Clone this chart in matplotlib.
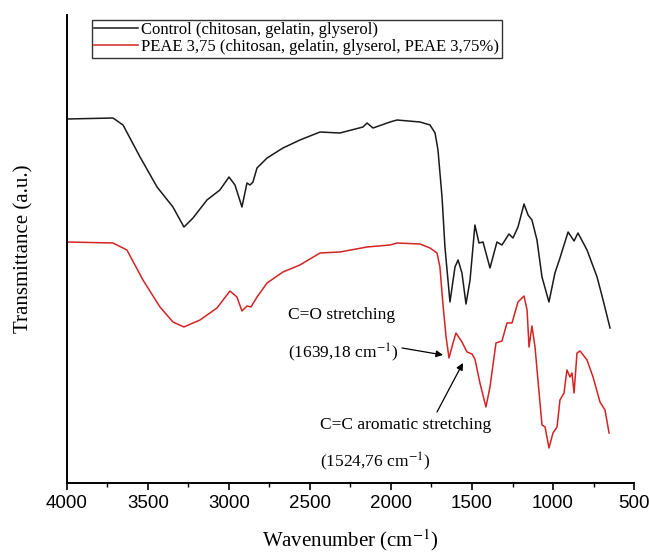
import matplotlib
matplotlib.use("Agg")
import matplotlib.pyplot as plt

# ---------------- data ----------------
wn_control = [4000, 3716, 3654, 3549, 3444, 3346, 3278, 3222, 3136, 3056, 3000, 2963,
              2920, 2889, 2870, 2852, 2827, 2765, 2667, 2562, 2438, 2315, 2173, 2148,
              2111, 2006, 1963, 1821, 1759, 1728, 1710, 1685, 1667, 1636, 1605, 1586,
              1562, 1537, 1512, 1482, 1457, 1432, 1389, 1346, 1315, 1272, 1247, 1216,
              1179, 1154, 1130, 1099, 1068, 1025, 988, 957, 907, 870, 846, 790, 728,
              691, 648]
t_control = [364, 365, 358, 326, 296, 276, 256, 265, 283, 293, 306, 298,
             276, 300, 298, 301, 315, 325, 335, 343, 351, 350, 356, 360,
             355, 361, 363, 361, 358, 350, 333, 286, 236, 181, 216, 223,
             210, 179, 203, 258, 240, 241, 215, 241, 238, 249, 245, 256,
             279, 268, 263, 243, 206, 181, 210, 225, 251, 242, 250, 233, 206,
             183, 155]

wn_peae = [4000, 3716, 3630, 3531, 3426, 3346, 3278, 3179, 3074, 2994, 2951, 2920,
           2889, 2864, 2827, 2765, 2667, 2562, 2438, 2315, 2148, 2006, 1963, 1821,
           1759, 1716, 1698, 1679, 1660, 1642, 1617, 1599, 1562, 1531, 1500, 1482,
           1451, 1414, 1389, 1352, 1315, 1284, 1253, 1216, 1179, 1160, 1148, 1130,
           1111, 1093, 1068, 1049, 1025, 1000, 975, 957, 932, 914, 895, 883, 870,
           852, 833, 790, 753, 710, 679, 654]
t_peae = [241, 240, 233, 203, 176, 161, 156, 163, 175, 192, 186, 172,
          177, 176, 186, 200, 211, 218, 230, 231, 236, 238, 240, 239,
          235, 230, 216, 178, 146, 125, 140, 150, 141, 131, 129, 124,
          100, 76, 96, 140, 142, 160, 160, 181, 187, 173, 136, 157,
          136, 103, 58, 56, 35, 50, 56, 83, 90, 113, 106, 110, 90,
          130, 132, 123, 106, 81, 73, 50]

labels = ["Control (chitosan, gelatin, glyserol)",
          "PEAE 3,75 (chitosan, gelatin, glyserol, PEAE 3,75%)"]
xticks = [4000, 3500, 3000, 2500, 2000, 1500, 1000, 500]

# ---------------- plot ----------------
plt.rcParams['mathtext.fontset'] = 'stix'
serif = 'Liberation Serif'

fig = plt.figure(figsize=(6.49, 5.54), dpi=100)
ax = fig.add_axes([0.1032, 0.1282, 0.8737, 0.8447])

ax.plot(wn_control, t_control, color='#1a1a1a', lw=1.1, label=labels[0])
ax.plot(wn_peae, t_peae, color='#d42323', lw=1.1, label=labels[1])

ax.set_xlim(4000, 500)
ax.set_ylim(0, 468)

ax.spines['top'].set_visible(False)
ax.spines['right'].set_visible(False)
ax.spines['left'].set_linewidth(1.4)
ax.spines['bottom'].set_linewidth(1.4)
ax.set_yticks([])
ax.set_xticks(xticks)
ax.set_xticks([3750, 3250, 2750, 2250, 1750, 1250, 750], minor=True)
ax.tick_params(axis='x', which='major', direction='out', length=5, width=1.2,
               labelsize=13.5, pad=4)
ax.tick_params(axis='x', which='minor', direction='out', length=3, width=1.0)
for lab in ax.get_xticklabels():
    lab.set_fontfamily('Liberation Sans')

ax.set_xlabel('Wavenumber (cm$^{-1}$)', fontfamily=serif, fontsize=15, labelpad=11)
ax.set_ylabel('Transmittance (a.u.)', fontfamily=serif, fontsize=15, labelpad=24)

leg = ax.legend(loc='upper left', bbox_to_anchor=(0.044, 0.99), frameon=True,
                fancybox=False, edgecolor='#333333', framealpha=1,
                prop={'family': serif, 'size': 12}, handlelength=2.6,
                handletextpad=0.2, borderpad=0.15, labelspacing=0.05,
                borderaxespad=0.0)
leg.get_frame().set_linewidth(1.0)

# annotations
fs = 12.5
ax.text(2636, 168, 'C=O stretching', fontfamily=serif, fontsize=fs, va='center')
ax.text(2636, 130, '(1639,18 cm$^{-1}$)', fontfamily=serif, fontsize=fs, va='center')
ax.annotate('', xy=(1679, 128), xytext=(1932, 135),
            arrowprops=dict(arrowstyle='-|>', color='black', lw=0.9,
                            mutation_scale=10, shrinkA=0, shrinkB=0))
ax.text(2438, 58, 'C=C aromatic stretching', fontfamily=serif, fontsize=fs, va='center')
ax.text(2438, 21, '(1524,76 cm$^{-1}$)', fontfamily=serif, fontsize=fs, va='center')
ax.annotate('', xy=(1556, 120), xytext=(1716, 71),
            arrowprops=dict(arrowstyle='-|>', color='black', lw=0.9,
                            mutation_scale=10, shrinkA=0, shrinkB=0))

fig.savefig('out.png', dpi=100)
